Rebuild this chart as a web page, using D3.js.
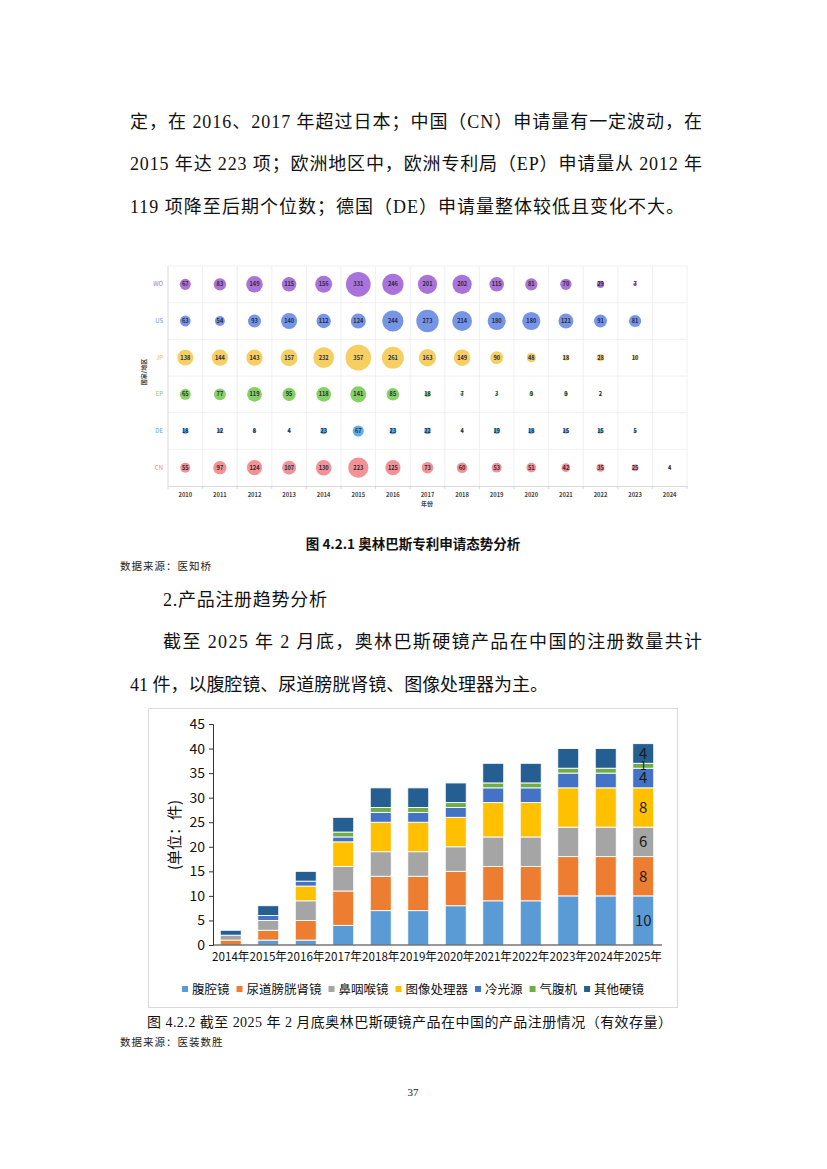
<!DOCTYPE html>
<html><head><meta charset="utf-8">
<script src="https://cdn.jsdelivr.net/npm/d3@7"></script>
<style>
html,body{margin:0;padding:0;background:#fff;}
svg{display:block;}
</style></head>
<body>
<script>
// ---------- Bubble chart data ----------
const bubbleYears = [2010,2011,2012,2013,2014,2015,2016,2017,2018,2019,2020,2021,2022,2023,2024];
const bubbleRegions = ["WO","US","JP","EP","DE","CN"];
const valsWO = [67,83,149,115,156,331,246,201,202,115,81,70,29,7,null];
const valsUS = [63,54,93,140,112,124,244,273,214,180,180,121,91,81,null];
const valsJP = [138,144,143,157,232,357,261,163,149,90,48,18,28,10,null];
const valsEP = [65,77,119,95,118,141,85,18,7,3,9,9,2,null,null];
const valsDE = [18,12,8,4,23,67,23,22,4,19,18,15,15,5,null];
const valsCN = [55,97,124,107,130,223,125,73,60,53,51,42,35,25,4];
const regionColors = ["#a56bd9","#6f8fe6","#f6cb5a","#80cf5c","#5aa9e6","#f28b8e"];
const regionLabelColors = ["#a071d0","#6a8fe0","#f0c040","#8cc860","#55a8e6","#f08080"];

// ---------- Stacked bar data ----------
const barYears = ["2014年","2015年","2016年","2017年","2018年","2019年","2020年","2021年","2022年","2023年","2024年","2025年"];
const seriesNames = ["腹腔镜","尿道膀胱肾镜","鼻咽喉镜","图像处理器","冷光源","气腹机","其他硬镜"];
const s腹腔镜 =   [0,1,1,4,7,7,8,9,9,10,10,10];
const s尿道 =     [1,2,4,7,7,7,7,7,7,8,8,8];
const s鼻咽喉 =   [1,2,4,5,5,5,5,6,6,6,6,6];
const s图像 =     [0,0,3,5,6,6,6,7,7,8,8,8];
const s冷光源 =   [0,1,1,1,2,2,2,3,3,3,3,4];
const s气腹机 =   [0,0,0,1,1,1,1,1,1,1,1,1];
const s其他 =     [1,2,2,3,4,4,4,4,4,4,4,4];
const seriesColors = ["#5b9bd5","#ed7d31","#a5a5a5","#ffc000","#4472c4","#70ad47","#255e91"];
const yTicks = [0,5,10,15,20,25,30,35,40,45];

const W = 827, H = 1169;
const svg = d3.select("body").append("svg").attr("width",W).attr("height",H);

const serif = "'Liberation Serif','Noto Sans CJK SC',serif";
const cjk = "'Noto Sans CJK SC','Noto Sans',sans-serif";

function para(txt, x, y, x2, size) {
  const t = svg.append("text").attr("x",x).attr("y",y).text(txt)
    .attr("font-family",serif).attr("font-size",size||18).attr("fill","#111");
  if (x2) t.attr("textLength",x2-x).attr("lengthAdjust","spacing");
  return t;
}

// ---------- Top paragraph ----------
para("定，在 2016、2017 年超过日本；中国（CN）申请量有一定波动，在", 130, 128, 702);
para("2015 年达 223 项；欧洲地区中，欧洲专利局（EP）申请量从 2012 年", 130, 170, 702);
para("119 项降至后期个位数；德国（DE）申请量整体较低且变化不大。", 130, 213, 684);

// ---------- Bubble chart ----------
const bx = d3.scaleBand().domain(bubbleYears).range([168,687]);
const by = d3.scaleBand().domain(bubbleRegions).range([266,486]);
const rScale = d3.scaleSqrt().domain([0,357]).range([0,12.8]);
const bg = svg.append("g");
bubbleYears.forEach((yr)=>{
  bg.append("line").attr("x1",bx(yr)+bx.bandwidth()).attr("x2",bx(yr)+bx.bandwidth())
    .attr("y1",266).attr("y2",486).attr("stroke","#ececec").attr("stroke-width",0.8);
});
bubbleRegions.forEach(r=>{
  bg.append("line").attr("x1",168).attr("x2",687).attr("y1",by(r)).attr("y2",by(r))
    .attr("stroke","#ececec").attr("stroke-width",0.8);
});
bg.append("line").attr("x1",168).attr("x2",168).attr("y1",266).attr("y2",486).attr("stroke","#cfcfcf").attr("stroke-width",0.8);
const xAxisB = d3.axisBottom(bx).tickSize(0).tickFormat(d=>d);
const gxb = bg.append("g").attr("transform","translate(0,486)").call(xAxisB);
gxb.select(".domain").attr("stroke","#cfcfcf").attr("stroke-width",0.8);
gxb.selectAll("text").attr("font-family",cjk).attr("font-size",5.8).attr("font-weight","bold").attr("fill","#444").attr("dy","1.4em");
bubbleYears.concat([null]).forEach((yr,i)=>{
  const xx = i<bubbleYears.length ? bx(yr) : 687;
  bg.append("line").attr("x1",xx).attr("x2",xx).attr("y1",486).attr("y2",489).attr("stroke","#cfcfcf").attr("stroke-width",0.8);
});
bg.append("text").attr("x",427).attr("y",506).attr("text-anchor","middle")
  .attr("font-family",cjk).attr("font-size",6).attr("font-weight","bold").attr("fill","#444").text("年份");
bg.append("text").attr("transform","translate(146,372) rotate(-90)").attr("text-anchor","middle")
  .attr("font-family",cjk).attr("font-size",6).attr("font-weight","bold").attr("fill","#444").text("国家/地区");
const allVals = [valsWO,valsUS,valsJP,valsEP,valsDE,valsCN];
bubbleRegions.forEach((reg,ri)=>{
  const cy = by(reg)+by.bandwidth()/2;
  bg.append("text").attr("x",163).attr("y",cy).attr("dy","0.35em").attr("text-anchor","end")
    .attr("font-family",cjk).attr("font-size",6).attr("fill",regionLabelColors[ri]).text(reg);
  allVals[ri].forEach((v,i)=>{
    if (v==null) return;
    const cx = bx(bubbleYears[i])+bx.bandwidth()/2;
    bg.append("circle").attr("cx",cx).attr("cy",cy).attr("r",rScale(v))
      .attr("fill",regionColors[ri]).attr("fill-opacity",0.95);
    bg.append("text").attr("x",cx).attr("y",cy).attr("dy","0.35em").attr("text-anchor","middle")
      .attr("font-family",cjk).attr("font-size",5.6).attr("font-weight","bold").attr("fill","#2a2a3a").text(v);
  });
});

// captions
svg.append("text").attr("x",413).attr("y",549).attr("text-anchor","middle")
  .attr("font-family",cjk).attr("font-size",13.5).attr("font-weight","bold").attr("fill","#111")
  .text("图 4.2.1 奥林巴斯专利申请态势分析");
svg.append("text").attr("x",120).attr("y",570)
  .attr("font-family",cjk).attr("font-size",10.5).attr("fill","#222").attr("letter-spacing",1)
  .text("数据来源：医知桥");
para("2.产品注册趋势分析", 163, 606, 327, 18);
para("截至 2025 年 2 月底，奥林巴斯硬镜产品在中国的注册数量共计", 163, 648, 702);
para("41 件，以腹腔镜、尿道膀胱肾镜、图像处理器为主。", 130, 691, 548);

// ---------- Stacked bar chart ----------
svg.append("rect").attr("x",148.5).attr("y",708.5).attr("width",529).attr("height",299)
  .attr("fill","#fff").attr("stroke","#d9d9d9").attr("stroke-width",1);
const x = d3.scaleBand().domain(barYears).range([212,662]).paddingInner(0.44).paddingOuter(0.22);
const y = d3.scaleLinear().domain([0,45]).range([945,724]);
const arrs = [s腹腔镜,s尿道,s鼻咽喉,s图像,s冷光源,s气腹机,s其他];
const table = barYears.map((yr,i)=>{
  const o = {year:yr};
  seriesNames.forEach((n,k)=>o[n]=arrs[k][i]);
  return o;
});
const stack = d3.stack().keys(seriesNames)(table);
const gb = svg.append("g");
stack.forEach((layer,k)=>{
  gb.selectAll(null).data(layer.filter(d=>d[1]>d[0])).join("rect")
    .attr("x",d=>x(d.data.year)).attr("width",x.bandwidth())
    .attr("y",d=>y(d[1])).attr("height",d=>y(d[0])-y(d[1]))
    .attr("fill",seriesColors[k]).attr("stroke","#fff").attr("stroke-width",0.9);
});
// data labels for 2025
stack.forEach((layer,k)=>{
  const d = layer[layer.length-1];
  if (d[1]<=d[0]) return;
  gb.append("text").attr("x",x(d.data.year)+x.bandwidth()/2).attr("y",(y(d[0])+y(d[1]))/2)
    .attr("dy","0.36em").attr("text-anchor","middle")
    .attr("font-family",cjk).attr("font-size",d[1]-d[0]<2?12:15).attr("fill","#1a1a1a").text(d[1]-d[0]);
});
// axes
const gy = svg.append("g").attr("transform","translate(213,0)")
  .call(d3.axisLeft(y).tickValues(yTicks).tickSize(4).tickPadding(4));
gy.select(".domain").attr("stroke","#333").attr("stroke-width",1);
gy.selectAll(".tick line").attr("stroke","#333");
gy.selectAll("text").attr("font-family",cjk).attr("font-size",14).attr("fill","#111");
const gx = svg.append("g").attr("transform","translate(0,945)")
  .call(d3.axisBottom(x).tickSize(0).tickPadding(7));
gx.select(".domain").attr("stroke","#333").attr("stroke-width",1).attr("d","M213,0H662");
gx.selectAll("text").attr("font-family",cjk).attr("font-size",12).attr("fill","#111")
  .attr("textLength",37.4).attr("lengthAdjust","spacingAndGlyphs");
svg.append("text").attr("transform","translate(180,835) rotate(-90)").attr("text-anchor","middle")
  .attr("font-family",cjk).attr("font-size",15).attr("fill","#111").text("(单位：件)");
// legend (laid out by measuring text)
const legFont = 12.5;
let lx = 182;
seriesNames.forEach((n,k)=>{
  svg.append("rect").attr("x",lx).attr("y",986).attr("width",6).attr("height",6).attr("fill",seriesColors[k]);
  const t = svg.append("text").attr("x",lx+10).attr("y",989).attr("dy","0.36em")
    .attr("font-family",cjk).attr("font-size",legFont).attr("fill","#111").text(n);
  lx += 10 + t.node().getComputedTextLength() + 7;
});

// caption 2
svg.append("text").attr("x",147).attr("y",1027)
  .attr("font-family",serif).attr("font-size",14).attr("fill","#111")
  .attr("textLength",525).attr("lengthAdjust","spacing")
  .text("图 4.2.2 截至 2025 年 2 月底奥林巴斯硬镜产品在中国的产品注册情况（有效存量）");
svg.append("text").attr("x",120).attr("y",1046)
  .attr("font-family",cjk).attr("font-size",10.5).attr("fill","#222").attr("letter-spacing",1)
  .text("数据来源：医装数胜");
svg.append("text").attr("x",413).attr("y",1096).attr("text-anchor","middle")
  .attr("font-family",serif).attr("font-size",11).attr("fill","#222").text("37");
</script>
</body></html>
